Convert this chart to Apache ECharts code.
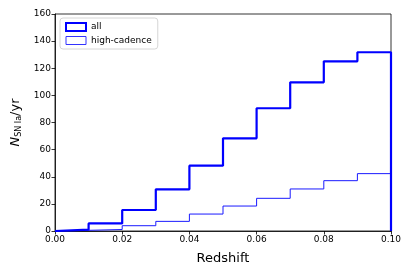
<!DOCTYPE html>
<html><head><meta charset="utf-8">
<script src="https://cdn.jsdelivr.net/npm/echarts@6/dist/echarts.min.js"></script>
<style>html,body{margin:0;padding:0;background:#fff}#c{width:413px;height:275px}</style>
</head><body><div id="c"></div>
<script>
var binEdges = [0, 0.01, 0.02, 0.03, 0.04, 0.05, 0.06, 0.07, 0.08, 0.09, 0.10];
var allCounts = [1, 5.6, 15.5, 30.7, 48.2, 68.3, 90.5, 109.6, 125.1, 131.8];
var highCadenceCounts = [0.5, 1.1, 3.9, 7.1, 12.5, 18.4, 24.1, 31.0, 37.1, 42.3];
var xTicks = [0, 0.02, 0.04, 0.06, 0.08, 0.10];
var yTicks = [0, 20, 40, 60, 80, 100, 120, 140, 160];

function stepPath(edges, vals) {
  var pts = [[edges[0], 0]];
  for (var i = 0; i < vals.length; i++) {
    pts.push([edges[i], vals[i]]);
    pts.push([edges[i + 1], vals[i]]);
  }
  pts.push([edges[edges.length - 1], 0]);
  return pts;
}
var font = 'DejaVu Sans';
var chart = echarts.init(document.getElementById('c'), null, {renderer: 'canvas'});
chart.setOption({
  animation: false,
  grid: {left: 55, right: 22, top: 14, bottom: 44, show: true, borderColor: '#000', borderWidth: 0.8},
  xAxis: {
    type: 'value', min: 0, max: 0.1, interval: 0.02,
    name: 'Redshift', nameLocation: 'middle', nameGap: 21,
    nameTextStyle: {fontFamily: font, fontSize: 13, color: '#000'},
    axisLine: {show: true, lineStyle: {color: '#000', width: 0.8}},
    axisTick: {show: true, length: 3.5, lineStyle: {color: '#000', width: 0.8}},
    axisLabel: {fontFamily: font, fontSize: 9, color: '#000', margin: 4,
      formatter: function (v) { return v.toFixed(2); }},
    splitLine: {show: false}
  },
  yAxis: {
    type: 'value', min: 0, max: 160, interval: 20,
    name: '{n|N}{s|SN Ia}{r|/yr}', nameLocation: 'middle', nameGap: 23,
    nameTextStyle: {fontFamily: font, fontSize: 13, color: '#000',
      rich: {
        n: {fontFamily: font, fontSize: 13, fontStyle: 'italic', color: '#000'},
        s: {fontFamily: font, fontSize: 8, color: '#000', verticalAlign: 'bottom', padding: [7, 0, 0, 0]},
        r: {fontFamily: font, fontSize: 13, color: '#000'}
      }},
    axisLine: {show: true, lineStyle: {color: '#000', width: 0.8}},
    axisTick: {show: true, length: 3.5, lineStyle: {color: '#000', width: 0.8}},
    axisLabel: {fontFamily: font, fontSize: 9, color: '#000', margin: 4},
    splitLine: {show: false}
  },
  legend: {
    left: 60, top: 18, orient: 'vertical', itemGap: 4,
    itemWidth: 20, itemHeight: 8,
    padding: [4, 6, 4, 5],
    backgroundColor: '#fff', borderColor: '#ccc', borderWidth: 0.8, borderRadius: 3,
    textStyle: {fontFamily: font, fontSize: 9, color: '#000'},
    data: [
      {name: 'all', icon: 'rect', itemStyle: {color: 'rgba(0,0,0,0)', borderColor: '#0000ff', borderWidth: 2}},
      {name: 'high-cadence', icon: 'rect', itemStyle: {color: 'rgba(0,0,0,0)', borderColor: '#3333ff', borderWidth: 1}}
    ]
  },
  series: [
    {name: 'all', type: 'line', data: stepPath(binEdges, allCounts), showSymbol: false,
      lineStyle: {color: '#0000ff', width: 2.2}, itemStyle: {color: '#0000ff'}, z: 3},
    {name: 'high-cadence', type: 'line', data: stepPath(binEdges, highCadenceCounts), showSymbol: false,
      lineStyle: {color: '#1a1aff', width: 1}, itemStyle: {color: '#1a1aff'}, z: 2}
  ]
});
</script></body></html>
